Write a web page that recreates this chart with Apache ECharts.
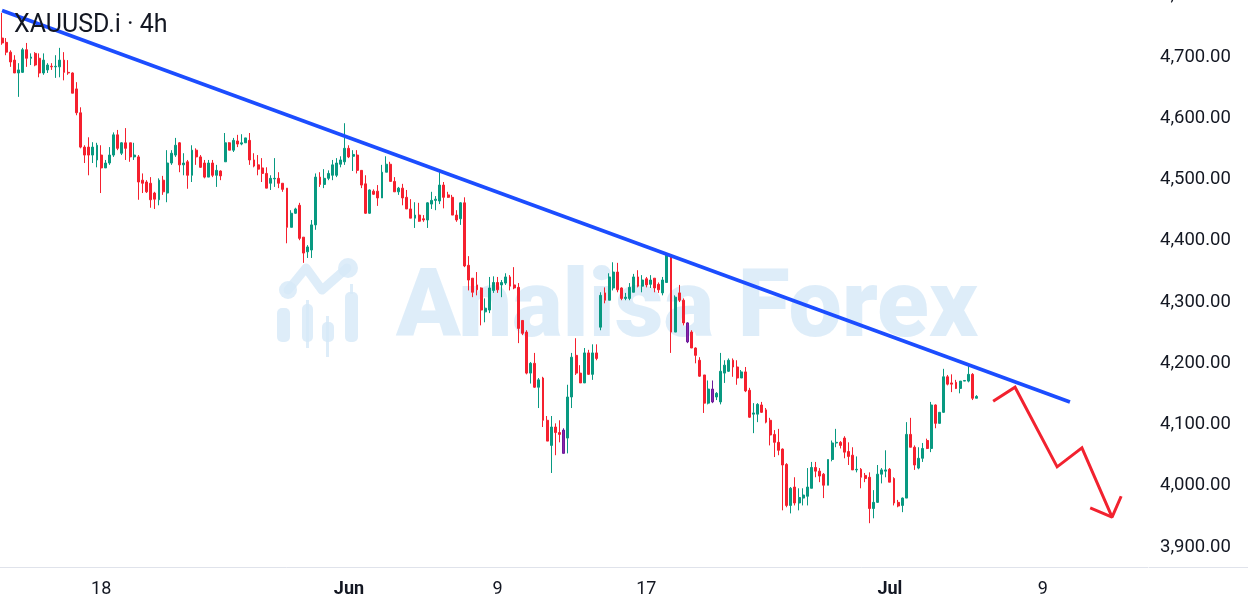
<!DOCTYPE html>
<html>
<head>
<meta charset="utf-8">
<title>XAUUSD.i 4h</title>
<script src="https://cdn.jsdelivr.net/npm/echarts@6/dist/echarts.min.js"></script>
<style>
  html, body { margin: 0; padding: 0; background: #fff; }
  #chart { width: 1248px; height: 610px; }
</style>
</head>
<body>
<div id="chart"></div>
<script>
// 4h candles (prices)
const opens = [
  4731, 4724, 4708, 4695, 4674, 4675, 4712, 4698, 4706, 4698, 4674, 4679, 4685, 4684, 4684, 4695, 4675, 4674, 4648, 4609,
  4553, 4553, 4540, 4532, 4540, 4519, 4527, 4540, 4573, 4543, 4560, 4560, 4537, 4537, 4499, 4496, 4494, 4478, 4467, 4499,
  4478, 4527, 4540, 4560, 4524, 4529, 4507, 4548, 4537, 4527, 4504, 4527, 4507, 4514, 4529, 4560, 4548, 4563, 4558, 4560,
  4564, 4532, 4524, 4519, 4510, 4494, 4501, 4502, 4494, 4486, 4422, 4445, 4458, 4406, 4382, 4385, 4426, 4504, 4492, 4502,
  4507, 4507, 4525, 4529, 4551, 4538, 4540, 4515, 4493, 4445, 4481, 4481, 4470, 4512, 4525, 4497, 4480, 4486, 4471, 4452,
  4437, 4442, 4436, 4434, 4460, 4466, 4465, 4491, 4475, 4471, 4442, 4436, 4462, 4360, 4339, 4328, 4323, 4284, 4287, 4319,
  4332, 4328, 4331, 4341, 4328, 4324, 4270, 4251, 4184, 4200, 4161, 4176, 4107, 4066, 4096, 4087, 4091, 4078, 4145, 4213,
  4184, 4168, 4217, 4182, 4217, 4259, 4315, 4303, 4323, 4349, 4323, 4306, 4306, 4316, 4341, 4326, 4338, 4329, 4339, 4329,
  4315, 4332, 4377, 4251, 4315, 4303, 4266, 4251, 4225, 4205, 4181, 4135, 4158, 4145, 4137, 4184, 4187, 4205, 4194, 4176,
  4186, 4156, 4117, 4117, 4132, 4124, 4107, 4084, 4071, 4060, 4035, 3968, 3998, 3972, 3980, 3983, 3996, 4030, 4024, 4019,
  4001, 4043, 4070, 4071, 4078, 4056, 4050, 4026, 4027, 4017, 4014, 3963, 3973, 4019, 4024, 4027, 4012, 3973, 3968, 3980,
  4084, 4063, 4029, 4045, 4074, 4061, 4132, 4102, 4120, 4178, 4168, 4169, 4159, 4171, 4171, 4182, 4143
];
const closes = [
  4723, 4708, 4692, 4674, 4679, 4712, 4698, 4700, 4687, 4674, 4695, 4687, 4684, 4685, 4695, 4675, 4674, 4641, 4609, 4553,
  4540, 4540, 4553, 4556, 4519, 4527, 4540, 4573, 4551, 4560, 4551, 4537, 4540, 4496, 4494, 4480, 4467, 4468, 4499, 4480,
  4527, 4543, 4556, 4524, 4527, 4507, 4548, 4537, 4520, 4504, 4527, 4507, 4515, 4506, 4560, 4548, 4564, 4558, 4560, 4568,
  4532, 4522, 4517, 4510, 4486, 4502, 4502, 4494, 4484, 4422, 4445, 4452, 4404, 4380, 4390, 4426, 4504, 4492, 4502, 4510,
  4524, 4527, 4532, 4551, 4537, 4541, 4515, 4491, 4445, 4483, 4476, 4470, 4512, 4525, 4497, 4480, 4486, 4470, 4452, 4437,
  4442, 4432, 4434, 4462, 4466, 4468, 4491, 4471, 4471, 4442, 4434, 4462, 4359, 4336, 4316, 4320, 4287, 4290, 4323, 4332,
  4320, 4332, 4341, 4326, 4323, 4257, 4249, 4184, 4200, 4161, 4173, 4107, 4073, 4096, 4087, 4084, 4053, 4145, 4210, 4184,
  4168, 4217, 4182, 4217, 4208, 4311, 4303, 4341, 4349, 4320, 4306, 4308, 4324, 4341, 4326, 4336, 4328, 4336, 4323, 4320,
  4336, 4377, 4251, 4308, 4303, 4266, 4235, 4225, 4213, 4179, 4135, 4158, 4137, 4151, 4187, 4197, 4205, 4194, 4176, 4186,
  4155, 4112, 4119, 4133, 4120, 4104, 4083, 4071, 4058, 4034, 3968, 3996, 3972, 3981, 3985, 3998, 4030, 4024, 4016, 4001,
  4043, 4070, 4071, 4066, 4055, 4048, 4026, 4027, 4014, 4012, 3963, 3973, 4019, 4026, 4026, 4006, 3972, 3967, 3980, 4084,
  4063, 4034, 4045, 4061, 4061, 4132, 4102, 4120, 4178, 4166, 4166, 4159, 4171, 4172, 4182, 4143, 4146
];
const lows = [
  4720, 4703, 4684, 4674, 4635, 4674, 4684, 4687, 4685, 4667, 4671, 4674, 4679, 4666, 4667, 4662, 4671, 4641, 4605, 4551,
  4527, 4507, 4527, 4520, 4478, 4519, 4524, 4537, 4548, 4540, 4532, 4529, 4532, 4467, 4478, 4478, 4454, 4452, 4458, 4475,
  4463, 4524, 4537, 4512, 4507, 4485, 4496, 4524, 4519, 4502, 4504, 4504, 4488, 4499, 4529, 4548, 4545, 4553, 4556, 4560,
  4524, 4520, 4507, 4496, 4486, 4483, 4488, 4486, 4480, 4396, 4422, 4444, 4401, 4364, 4372, 4372, 4418, 4488, 4486, 4499,
  4499, 4504, 4520, 4524, 4535, 4514, 4510, 4486, 4444, 4444, 4475, 4457, 4470, 4512, 4497, 4480, 4475, 4458, 4452, 4437,
  4421, 4431, 4431, 4421, 4452, 4450, 4460, 4453, 4470, 4442, 4431, 4426, 4357, 4319, 4308, 4311, 4262, 4267, 4282, 4315,
  4315, 4308, 4328, 4319, 4321, 4233, 4246, 4182, 4167, 4160, 4127, 4096, 4073, 4021, 4050, 4071, 4053, 4053, 4127, 4181,
  4168, 4168, 4181, 4173, 4205, 4254, 4298, 4303, 4319, 4316, 4303, 4303, 4303, 4316, 4324, 4316, 4324, 4323, 4316, 4315,
  4311, 4332, 4217, 4251, 4300, 4262, 4233, 4225, 4200, 4178, 4119, 4133, 4135, 4140, 4133, 4168, 4186, 4178, 4165, 4176,
  4153, 4111, 4086, 4104, 4119, 4102, 4066, 4047, 4050, 3960, 3965, 3955, 3968, 3960, 3968, 3968, 3996, 4014, 4006, 3980,
  4001, 4040, 4063, 4061, 4045, 4034, 4026, 4022, 3996, 4006, 3939, 3947, 3972, 4004, 4014, 4006, 3968, 3965, 3957, 3980,
  4063, 4026, 4027, 4039, 4060, 4055, 4094, 4102, 4119, 4164, 4153, 4158, 4151, 4171, 4169, 4140, 4143
];
const highs = [
  4772, 4731, 4711, 4703, 4690, 4715, 4723, 4706, 4708, 4706, 4706, 4690, 4690, 4703, 4715, 4708, 4695, 4675, 4659, 4618,
  4556, 4569, 4561, 4560, 4556, 4532, 4553, 4577, 4581, 4561, 4584, 4560, 4560, 4540, 4510, 4499, 4504, 4480, 4502, 4506,
  4548, 4548, 4568, 4561, 4543, 4532, 4556, 4551, 4540, 4532, 4532, 4532, 4524, 4515, 4576, 4561, 4568, 4573, 4574, 4568,
  4576, 4543, 4540, 4535, 4520, 4507, 4535, 4512, 4494, 4486, 4450, 4454, 4462, 4406, 4393, 4434, 4510, 4512, 4517, 4515,
  4532, 4535, 4538, 4592, 4556, 4548, 4548, 4515, 4507, 4484, 4484, 4491, 4524, 4538, 4529, 4504, 4488, 4493, 4483, 4468,
  4463, 4462, 4442, 4463, 4480, 4473, 4512, 4496, 4480, 4475, 4450, 4463, 4471, 4375, 4339, 4349, 4324, 4306, 4341, 4342,
  4341, 4336, 4347, 4344, 4357, 4331, 4270, 4254, 4202, 4217, 4176, 4178, 4114, 4114, 4102, 4107, 4094, 4165, 4217, 4241,
  4197, 4225, 4222, 4231, 4231, 4316, 4324, 4347, 4365, 4364, 4324, 4315, 4331, 4346, 4352, 4344, 4341, 4344, 4339, 4332,
  4341, 4380, 4378, 4311, 4328, 4306, 4267, 4254, 4226, 4210, 4181, 4172, 4172, 4153, 4217, 4205, 4208, 4208, 4205, 4189,
  4194, 4160, 4135, 4135, 4137, 4127, 4111, 4091, 4093, 4061, 4037, 3998, 4014, 3996, 3996, 4029, 4039, 4039, 4029, 4021,
  4043, 4074, 4093, 4073, 4081, 4071, 4063, 4048, 4029, 4021, 4022, 3993, 4034, 4029, 4058, 4029, 4014, 3977, 3981, 4104,
  4111, 4066, 4063, 4070, 4077, 4137, 4133, 4120, 4191, 4181, 4182, 4173, 4171, 4172, 4199, 4184, 4148
];
// candles drawn in violet on the source chart
const violetIdx = [136, 166, 172];

// time axis: 4h slots incl. the empty future area
const slotCount = 278;
const tickIdx = [24, 84, 120, 156, 215, 252];
const tickText = ['18', 'Jun', '9', '17', 'Jul', '9'];
const priceTicks = [3900, 4000, 4100, 4200, 4300, 4400, 4500, 4600, 4700, 4800];

// drawings (slot index, price)
const trendX = [0, 258.6];
const trendY = [4776, 4137];
const arrowX = [240, 245.3, 255.5, 261.5, 268.8];
const arrowY = [4138, 4161, 4031, 4062, 3949];
const headX = [263.5, 268.8, 271];
const headY = [3964, 3949, 3983];

const UP = '#089981';
const DOWN = '#f5202e';
const VIOLET = '#8e24aa';
const FONT = 'Roboto';

const cats = [];
for (let i = 0; i < slotCount; i++) cats.push('');
tickIdx.forEach((k, j) => { cats[k] = tickText[j]; });

const candles = opens.map((o, i) => {
  const item = { value: [o, closes[i], lows[i], highs[i]] };
  if (violetIdx.indexOf(i) >= 0) {
    item.itemStyle = { color: VIOLET, color0: VIOLET, borderColor: '#6a1b9a', borderColor0: '#6a1b9a' };
  }
  return item;
});

const zip = (xs, ys) => xs.map((x, i) => [x, ys[i]]);

function fmtPrice(v) {
  const s = v.toFixed(2).split('.');
  return s[0].replace(/\B(?=(\d{3})+(?!\d))/g, ',') + '.' + s[1];
}

const chart = echarts.init(document.getElementById('chart'));

const wmFill = 'rgba(214,233,247,0.8)';

const option = {
  animation: false,
  backgroundColor: '#ffffff',
  textStyle: { fontFamily: FONT },
  title: {
    text: 'XAUUSD.i · 4h',
    left: 9,
    top: 8,
    textStyle: { fontSize: 25, fontWeight: 'normal', color: '#131722', fontFamily: FONT }
  },
  grid: { left: 0, right: 100, top: -4.2, bottom: 42.7, containLabel: false, outerBoundsMode: 'none' },
  xAxis: [
    {
      type: 'category',
      data: cats,
      boundaryGap: true,
      axisLine: { lineStyle: { color: '#e0e3eb', width: 1 } },
      axisTick: { show: false },
      splitLine: { show: false },
      axisLabel: {
        interval: 0,
        margin: 13,
        fontSize: 18,
        color: '#131722',
        fontFamily: FONT,
        formatter: v => (v === '' ? '' : (isNaN(Number(v)) ? '{b|' + v + '}' : v)),
        rich: { b: { fontWeight: 'bold', fontSize: 18, color: '#131722', fontFamily: FONT } }
      }
    },
    { type: 'value', min: -0.5, max: slotCount - 0.5, show: false }
  ],
  yAxis: {
    type: 'value',
    position: 'right',
    min: 3867,
    max: 4800,
    scale: true,
    axisLine: { show: false },
    axisTick: { show: false },
    splitLine: { show: false },
    axisLabel: {
      customValues: priceTicks,
      align: 'left',
      margin: 12,
      fontSize: 18.5,
      color: '#131722',
      fontFamily: FONT,
      formatter: v => fmtPrice(v)
    }
  },
  series: [
    {
      type: 'candlestick',
      xAxisIndex: 0,
      data: candles,
      barWidth: 2.4,
      itemStyle: { color: UP, color0: DOWN, borderColor: UP, borderColor0: DOWN, borderWidth: 1 },
      z: 2
    },
    {
      type: 'line',
      xAxisIndex: 1,
      data: zip(trendX, trendY),
      symbol: 'none',
      lineStyle: { color: '#1c4dff', width: 3.7 },
      z: 4
    },
    {
      type: 'line',
      xAxisIndex: 1,
      data: zip(arrowX, arrowY),
      symbol: 'none',
      lineStyle: { color: '#f2222f', width: 3, join: 'miter' },
      z: 4
    },
    {
      type: 'line',
      xAxisIndex: 1,
      data: zip(headX, headY),
      symbol: 'none',
      lineStyle: { color: '#f2222f', width: 3 },
      z: 4
    }
  ],
  graphic: [
    // bottom rule under the price scale
    { type: 'line', shape: { x1: 1149, y1: 567.5, x2: 1248, y2: 567.5 }, style: { stroke: '#e0e3eb', lineWidth: 1 }, z: 1 },
    // watermark
    {
      type: 'group', z: 100, silent: true,
      children: [
        { type: 'rect', shape: { x: 277, y: 308, width: 13, height: 34, r: 5 }, style: { fill: wmFill } },
        { type: 'rect', shape: { x: 302, y: 304, width: 11, height: 38, r: 5 }, style: { fill: wmFill } },
        { type: 'rect', shape: { x: 306, y: 300, width: 3, height: 48 }, style: { fill: wmFill } },
        { type: 'rect', shape: { x: 322, y: 322, width: 12, height: 20, r: 5 }, style: { fill: wmFill } },
        { type: 'rect', shape: { x: 326, y: 316, width: 3, height: 41 }, style: { fill: wmFill } },
        { type: 'rect', shape: { x: 345, y: 292, width: 13, height: 50, r: 5 }, style: { fill: wmFill } },
        { type: 'rect', shape: { x: 350, y: 284, width: 3, height: 10 }, style: { fill: wmFill } },
        { type: 'polyline', shape: { points: [[288, 290], [306, 268], [322, 290], [347, 268]] },
          style: { stroke: wmFill, lineWidth: 9, lineCap: 'round', lineJoin: 'round', fill: null } },
        { type: 'circle', shape: { cx: 288, cy: 290, r: 9 }, style: { fill: wmFill } },
        { type: 'circle', shape: { cx: 348, cy: 268, r: 10 }, style: { fill: wmFill } },
        {
          type: 'text',
          style: {
            text: 'Analisa Forex', x: 396, y: 312,
            font: '900 95px Roboto', fill: wmFill,
            textAlign: 'left', textVerticalAlign: 'middle'
          }
        }
      ]
    }
  ]
};

chart.setOption(option);
</script>
</body>
</html>
